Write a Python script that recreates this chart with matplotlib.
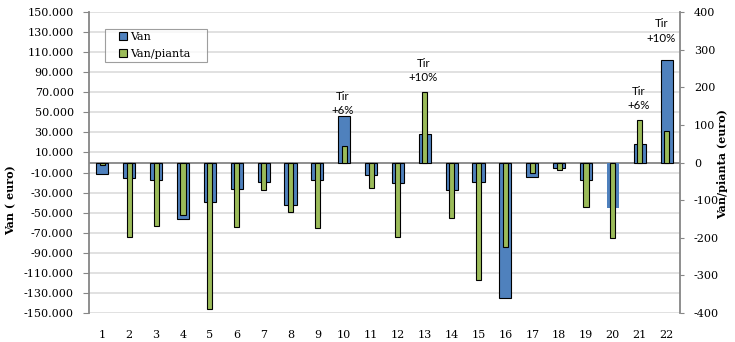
import matplotlib
matplotlib.use("Agg")
import matplotlib.pyplot as plt
from matplotlib.patches import Patch, Rectangle
from matplotlib.legend_handler import HandlerPatch
from matplotlib.ticker import FuncFormatter
import numpy as np

plt.rcParams['axes.unicode_minus'] = False

categories = [str(i) for i in range(1, 23)]
van = [-11000, -15500, -17500, -56000, -39500, -26000, -19500, -42500, -17500, 46000,
       -12000, -20500, 28000, -27500, -19000, -135500, -14500, -5300, -17000, -45500,
       18000, 102500]
van_pianta = [-7, -199, -170, -140, -390, -171, -73, -132, -175, 45,
              -69, -198, 188, -148, -311, -225, -27, -19, -118, -200,
              112, 85]
left_ticks = list(range(-150000, 150001, 20000))
right_ticks = list(range(-400, 401, 100))
annot_cats = [10, 13, 21, 22]
annot_texts = ["Tir\n+6%", "Tir\n+10%", "Tir\n+6%", "Tir\n+10%"]
annot_y = [59000, 92000, 64000, 131000]
annot_dx = [-0.05, -0.05, -0.05, -0.2]

BLUE = '#4f81bd'
GREEN = '#9bbb59'
GRID = '#d9d9d9'
AX = '#868686'
SERIF = 'DejaVu Serif'

fig = plt.figure(figsize=(7.35, 3.42), dpi=100)
ax = fig.add_axes([89/735, 1-313/342, 591/735, 301/342])
ax2 = ax.twinx()

x = np.arange(1, len(categories) + 1)
edge_blue = ['black'] * len(van)
edge_blue[19] = 'none'
ax.bar(x, van, width=0.45, color=BLUE, edgecolor=edge_blue, linewidth=0.8, zorder=3)
ax2.bar(x, van_pianta, width=0.19, color=GREEN, edgecolor='black', linewidth=0.8, zorder=3)

ax.set_xlim(0.5, len(categories) + 0.5)
ax.set_ylim(-150000, 150000)
ax2.set_ylim(-400, 400)
ax.set_yticks(left_ticks)
ax2.set_yticks(right_ticks)
ax.yaxis.set_major_formatter(FuncFormatter(lambda v, p: f"{int(v)/1000:.3f}"))
ax2.yaxis.set_major_formatter(FuncFormatter(lambda v, p: f"{int(v)}"))
ax.set_xticks(x)
ax.set_xticklabels(categories)

ax.grid(axis='y', color=GRID, linewidth=1.1, zorder=0)
ax.set_axisbelow(True)
ax.axhline(0, color=AX, linewidth=1.3, zorder=2)

for a in (ax, ax2):
    a.spines['top'].set_visible(False)
    a.spines['bottom'].set_visible(False)
    a.spines['left'].set_color(AX)
    a.spines['right'].set_color(AX)
    a.spines['left'].set_linewidth(1.3)
    a.spines['right'].set_linewidth(1.3)
ax.spines['right'].set_visible(False)
ax2.spines['left'].set_visible(False)

ax.tick_params(axis='y', length=4, color=AX, pad=7, labelsize=8)
ax2.tick_params(axis='y', length=3, color=AX, pad=7, labelsize=8)
ax.tick_params(axis='x', length=0, pad=12, labelsize=8)
for lbl in ax.get_yticklabels() + ax.get_xticklabels() + ax2.get_yticklabels():
    lbl.set_family(SERIF)

ax.set_ylabel("Van ( euro)", family=SERIF, fontweight='bold', fontsize=8)
ax.yaxis.set_label_coords(-0.1235, 0.375)
ax2.set_ylabel("Van/pianta (euro)", family=SERIF, fontweight='bold', fontsize=8)
ax2.yaxis.set_label_coords(1.063, 0.495)

for c, t, yv, dx in zip(annot_cats, annot_texts, annot_y, annot_dx):
    ax.text(c + dx, yv, t, ha='center', va='center', family='Lato', fontsize=8.3,
            linespacing=1.35, zorder=5)


def square_right(legend, orig_handle, xdescent, ydescent, width, height, fontsize):
    s = 5.5
    return Rectangle((width - s - xdescent, (height - s) / 2 - ydescent), s, s)


handles = [Patch(facecolor=BLUE, edgecolor='black', linewidth=0.8, label='Van'),
           Patch(facecolor=GREEN, edgecolor='black', linewidth=0.8, label='Van/pianta')]
leg = ax2.legend(handles=handles, loc='upper left',
                 bbox_to_anchor=(16/591, 1 - 52/301, 102/591, 35/301), mode='expand',
                 borderaxespad=0, frameon=True, fancybox=False, edgecolor=AX,
                 prop={'family': SERIF, 'size': 8}, handlelength=1.7, handleheight=0.7,
                 handletextpad=0.25, borderpad=0.28, labelspacing=0.6,
                 handler_map={Patch: HandlerPatch(patch_func=square_right)})
leg.get_frame().set_linewidth(0.8)
leg.set_zorder(10)

fig.savefig('out.png', dpi=100)
